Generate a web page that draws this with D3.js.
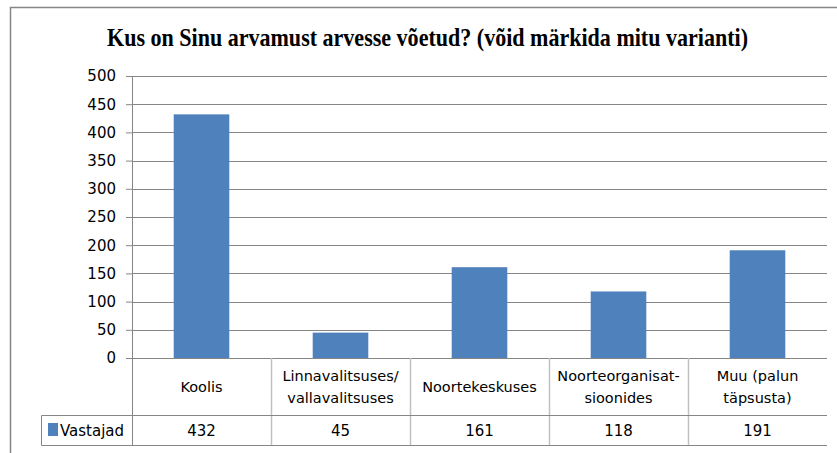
<!DOCTYPE html>
<html>
<head>
<meta charset="utf-8">
<script src="https://cdn.jsdelivr.net/npm/d3@7"></script>
<style>
  body { margin: 0; background: #fff; }
  text { font-family: "DejaVu Sans", sans-serif; fill: #000; }
</style>
</head>
<body>
<script>
// data
const categories = ["Koolis", "Linnavalitsuses/\nvallavalitsuses", "Noortekeskuses", "Noorteorganisat-\nsioonides", "Muu (palun\ntäpsusta)"];
const values = [432, 45, 161, 118, 191];
const yTicks = [0, 50, 100, 150, 200, 250, 300, 350, 400, 450, 500];
const seriesName = "Vastajad";
const title = "Kus on Sinu arvamust arvesse võetud? (võid märkida mitu varianti)";

const w = 837, h = 453;
const plotLeft = 132, plotRight = 827, plotTop = 76, plotBottom = 358;
const gridColor = "#868686";
const barColor = "#4f81bd";

const svg = d3.select("body").append("svg")
  .attr("width", w)
  .attr("height", h);

// outer frame (cut by the picture on right and bottom)
svg.append("rect")
  .attr("x", 10.5).attr("y", 7.5)
  .attr("width", 840).attr("height", 460)
  .attr("fill", "none")
  .attr("stroke", gridColor)
  .attr("stroke-width", 1.5);

svg.append("text")
  .text(title)
  .attr("x", 427.5)
  .attr("y", 46)
  .attr("text-anchor", "middle")
  .attr("textLength", 641)
  .attr("lengthAdjust", "spacingAndGlyphs")
  .style("font-family", "'Liberation Serif', 'Times New Roman', serif")
  .style("font-weight", "bold")
  .style("font-size", "25px");

const y = d3.scaleLinear().domain([0, 500]).range([plotBottom, plotTop]);
const x = d3.scaleBand().domain(categories).range([plotLeft, plotRight]);

// y ticks
const yAxis = d3.axisLeft(y).tickValues(yTicks).tickSize(6).tickPadding(10);
const gy = svg.append("g").attr("transform", `translate(${plotLeft},0)`).call(yAxis);
gy.select(".domain").remove();
gy.selectAll(".tick line").attr("stroke", gridColor);
gy.selectAll(".tick text").style("font-size", "15px").style("font-family", "'DejaVu Sans', sans-serif").attr("fill", "#000");

// gridlines
svg.append("g").selectAll("line")
  .data(yTicks)
  .join("line")
  .attr("x1", plotLeft).attr("x2", plotRight)
  .attr("y1", d => Math.round(y(d)) + 0.5)
  .attr("y2", d => Math.round(y(d)) + 0.5)
  .attr("stroke", gridColor);

// bars
const barW = x.bandwidth() * 0.4;
svg.append("g").selectAll("rect")
  .data(values)
  .join("rect")
  .attr("x", (d, i) => x(categories[i]) + (x.bandwidth() - barW) / 2)
  .attr("y", d => y(d))
  .attr("width", barW)
  .attr("height", d => y(0) - y(d))
  .attr("fill", barColor);

// y axis line
svg.append("line")
  .attr("x1", plotLeft + 0.5).attr("x2", plotLeft + 0.5)
  .attr("y1", plotTop).attr("y2", 445)
  .attr("stroke", gridColor);

// data table
const rowTop = 415.5, rowBottom = 445.5, tableLeft = 41.5;
const table = svg.append("g");
// vertical separators between categories
table.selectAll("line.sep")
  .data(categories.slice(1))
  .join("line")
  .attr("class", "sep")
  .attr("x1", d => Math.round(x(d)) + 0.5)
  .attr("x2", d => Math.round(x(d)) + 0.5)
  .attr("y1", plotBottom).attr("y2", rowBottom)
  .attr("stroke", "#c0c0c0")
  .attr("stroke-width", 1.5);
table.append("line")
  .attr("x1", tableLeft).attr("x2", plotRight)
  .attr("y1", rowTop).attr("y2", rowTop)
  .attr("stroke", gridColor);
table.append("line")
  .attr("x1", tableLeft).attr("x2", plotRight)
  .attr("y1", rowBottom).attr("y2", rowBottom)
  .attr("stroke", gridColor);
table.append("line")
  .attr("x1", tableLeft).attr("x2", tableLeft)
  .attr("y1", rowTop).attr("y2", rowBottom)
  .attr("stroke", gridColor);

// category labels
categories.forEach(c => {
  const lines = c.split("\n");
  const cx = x(c) + x.bandwidth() / 2;
  const t = table.append("text")
    .attr("text-anchor", "middle")
    .style("font-size", "14.5px");
  if (lines.length === 1) {
    t.append("tspan").attr("x", cx).attr("y", 392).text(lines[0]);
  } else {
    lines.forEach((l, j) => t.append("tspan").attr("x", cx).attr("y", 381 + j * 22).text(l));
  }
});

// value row
table.selectAll("text.val")
  .data(values)
  .join("text")
  .attr("class", "val")
  .attr("x", (d, i) => x(categories[i]) + x.bandwidth() / 2)
  .attr("y", 436)
  .attr("text-anchor", "middle")
  .style("font-size", "15px")
  .text(d => d);

// legend key
table.append("rect")
  .attr("x", 48).attr("y", 423)
  .attr("width", 10).attr("height", 13)
  .attr("fill", barColor);
table.append("text")
  .attr("x", 60).attr("y", 436)
  .style("font-size", "15px")
  .text(seriesName);
</script>
</body>
</html>
